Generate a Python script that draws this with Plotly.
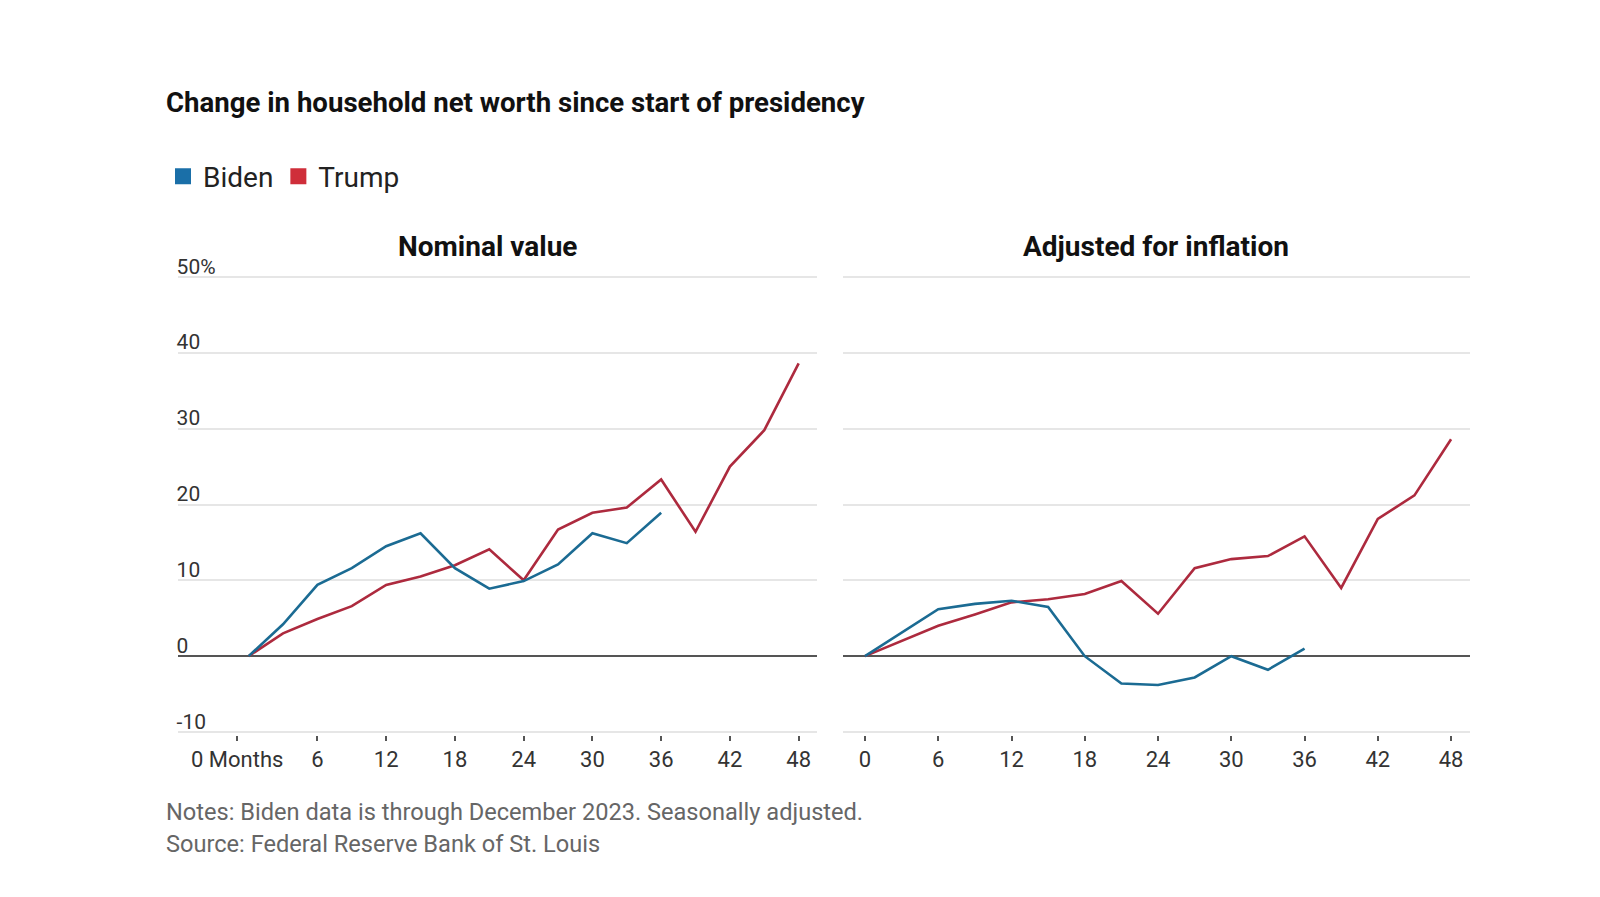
import plotly.graph_objects as go

# ---------------- data ----------------
months_trump = [0, 3, 6, 9, 12, 15, 18, 21, 24, 27, 30, 33, 36, 39, 42, 45, 48]
months_biden = [0, 3, 6, 9, 12, 15, 18, 21, 24, 27, 30, 33, 36]

trump_nominal = [0, 3.0, 4.9, 6.6, 9.4, 10.5, 12.0, 14.1, 10.0, 16.7, 18.9, 19.6, 23.3, 16.4, 25.0, 29.8, 38.6]
biden_nominal = [0, 4.2, 9.4, 11.6, 14.5, 16.2, 11.6, 8.9, 9.9, 12.1, 16.2, 14.9, 18.9]

trump_real = [0, 2.0, 4.0, 5.5, 7.1, 7.5, 8.2, 9.9, 5.6, 11.6, 12.8, 13.2, 15.8, 9.0, 18.1, 21.2, 28.6]
biden_real = [0, 3.1, 6.2, 6.9, 7.3, 6.5, 0.0, -3.6, -3.8, -2.8, 0.0, -1.8, 1.0]

y_ticks = [-10, 0, 10, 20, 30, 40, 50]
y_tick_text = ["-10", "0", "10", "20", "30", "40", "50%"]
x_ticks_left = [-1, 6, 12, 18, 24, 30, 36, 42, 48]
x_ticks_left_text = ["0 Months", "6", "12", "18", "24", "30", "36", "42", "48"]
x_ticks_right = [0, 6, 12, 18, 24, 30, 36, 42, 48]

title = "Change in household net worth since start of presidency"
panel_titles = ["Nominal value", "Adjusted for inflation"]
notes = "Notes: Biden data is through December 2023. Seasonally adjusted."
source = "Source: Federal Reserve Bank of St. Louis"

# ---------------- style ----------------
W, H = 1600, 897
BLUE = "#1b6b93"
RED = "#ad2a3e"
BLUE_KEY = "#1a6fa8"
RED_KEY = "#cf2e3a"
GRID = "#e6e6e6"
FONT = "Roboto, Lato, sans-serif"

DX, DY = -7, -8  # fine placement offsets (pixels)


def px_x(p):
    return (p + DX) / W


def px_y(p):
    return 1 - (p + DY) / H


fig = go.Figure()

# lines
fig.add_trace(go.Scatter(x=months_trump, y=trump_nominal, mode="lines", line=dict(color=RED, width=2.6),
                         xaxis="x", yaxis="y", showlegend=False, hoverinfo="skip"))
fig.add_trace(go.Scatter(x=months_biden, y=biden_nominal, mode="lines", line=dict(color=BLUE, width=2.6),
                         xaxis="x", yaxis="y", showlegend=False, hoverinfo="skip"))
fig.add_trace(go.Scatter(x=months_trump, y=trump_real, mode="lines", line=dict(color=RED, width=2.6),
                         xaxis="x2", yaxis="y2", showlegend=False, hoverinfo="skip"))
fig.add_trace(go.Scatter(x=months_biden, y=biden_real, mode="lines", line=dict(color=BLUE, width=2.6),
                         xaxis="x2", yaxis="y2", showlegend=False, hoverinfo="skip"))

# legend keys
fig.add_trace(go.Scatter(x=[None], y=[None], mode="markers", name="Biden",
                         marker=dict(symbol="square", size=16, color=BLUE_KEY), xaxis="x", yaxis="y"))
fig.add_trace(go.Scatter(x=[None], y=[None], mode="markers", name="Trump",
                         marker=dict(symbol="square", size=16, color=RED_KEY), xaxis="x", yaxis="y"))

# y scale: gridline 50 at 277px, -10 at 732px -> 7.583 px per unit
PPU = (732 - 277) / 60.0
Y_TOP = 56.0
y_range = [-10.4, Y_TOP]
y_dom = [px_y(732 + 0.4 * PPU), px_y(277 - (Y_TOP - 50) * PPU)]

common_x = dict(showgrid=False, zeroline=False, showline=False, ticks="outside", ticklen=5, tickwidth=2,
                tickcolor="#555", tickfont=dict(family=FONT, size=22, color="#333"), fixedrange=True)
common_y = dict(range=y_range, tickvals=y_ticks, showgrid=True, gridcolor=GRID, gridwidth=1.5,
                zeroline=True, zerolinecolor="#555", zerolinewidth=2, showline=False, ticks="",
                fixedrange=True)

fig.update_layout(
    width=W, height=H,
    margin=dict(l=0, r=0, t=0, b=0),
    paper_bgcolor="white", plot_bgcolor="white",
    font=dict(family=FONT, color="#222"),
    xaxis=dict(domain=[px_x(176.6), px_x(816)], range=[-6.2, 49.6], tickvals=x_ticks_left,
               ticktext=x_ticks_left_text, anchor="y", **common_x),
    xaxis2=dict(domain=[px_x(842), px_x(1469)], range=[-1.8, 49.55], tickvals=x_ticks_right,
                anchor="y2", **common_x),
    yaxis=dict(domain=y_dom, anchor="x", ticktext=y_tick_text, ticklabelposition="inside top",
               ticklabelstandoff=-4, ticklabelshift=4,
               tickfont=dict(family=FONT, size=21, color="#333"), **common_y),
    yaxis2=dict(domain=y_dom, anchor="x2", showticklabels=False, **common_y),
    legend=dict(orientation="h", x=px_x(162), y=px_y(176.5), xanchor="left", yanchor="middle",
                font=dict(family=FONT, size=28, color="#222"), bgcolor="rgba(0,0,0,0)",
                itemclick=False, itemdoubleclick=False),
    showlegend=True,
)

annotations = [
    dict(text="<b>" + title + "</b>", x=px_x(163), y=px_y(102), xanchor="left", yanchor="middle",
         font=dict(family=FONT, size=27.6, color="#111")),
    dict(text="<b>" + panel_titles[0] + "</b>", x=px_x(486), y=px_y(246), xanchor="center", yanchor="middle",
         font=dict(family=FONT, size=28, color="#111")),
    dict(text="<b>" + panel_titles[1] + "</b>", x=px_x(1155), y=px_y(246), xanchor="center", yanchor="middle",
         font=dict(family=FONT, size=28, color="#111")),
    dict(text=notes, x=px_x(163), y=px_y(812), xanchor="left", yanchor="middle",
         font=dict(family=FONT, size=23.6, color="#666")),
    dict(text=source, x=px_x(163), y=px_y(844), xanchor="left", yanchor="middle",
         font=dict(family=FONT, size=23.6, color="#666")),
]
for a in annotations:
    a.update(xref="paper", yref="paper", showarrow=False)
fig.update_layout(annotations=annotations)

fig.write_html("out.html")
